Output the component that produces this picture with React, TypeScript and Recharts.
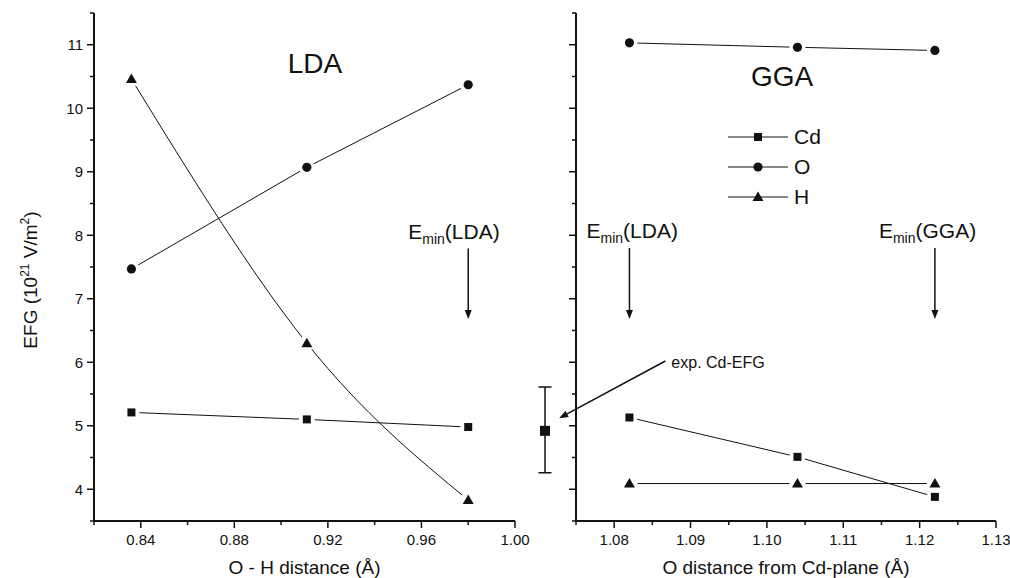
import React from "react";
import {
    LineChart,
    Line,
    ComposedChart,
    Scatter,
    ErrorBar,
    XAxis,
    YAxis,
    Label,
    Legend,
    ReferenceDot,
    ReferenceLine,
} from "recharts";

// LDA panel: EFG vs O-H distance
const LDA_X = [0.836, 0.911, 0.98];
const LDA_CD = [5.21, 5.1, 4.98];
const LDA_O = [7.47, 9.07, 10.37];
const LDA_H = [10.46, 6.3, 3.83];

// GGA panel: EFG vs O distance from Cd-plane
const GGA_X = [1.082, 1.104, 1.122];
const GGA_CD = [5.13, 4.51, 3.88];
const GGA_O = [11.03, 10.96, 10.91];
const GGA_H = [4.09, 4.09, 4.09];

// experimental Cd-EFG with its error range
const EXP_CD = 4.92;
const EXP_LOW = 4.26;
const EXP_HIGH = 5.61;

const Y_MAJOR = [4, 5, 6, 7, 8, 9, 10, 11];
const Y_MINOR = [3.5, 4.5, 5.5, 6.5, 7.5, 8.5, 9.5, 10.5, 11.5];
const LDA_X_MAJOR = [0.84, 0.88, 0.92, 0.96, 1.0];
const LDA_X_MINOR = [0.82, 0.86, 0.9, 0.94, 0.98];
const GGA_X_MAJOR = [1.08, 1.09, 1.1, 1.11, 1.12, 1.13];
const GGA_X_MINOR = [1.075, 1.085, 1.095, 1.105, 1.115, 1.125];

const SERIES = [
    { key: "cd", name: "Cd", shape: "square" },
    { key: "o", name: "O", shape: "circle" },
    { key: "h", name: "H", shape: "triangle" },
];

const INK = "#111";
const FONT = '"Liberation Sans", Arial, Helvetica, sans-serif';
const Y_DOMAIN: [number, number] = [3.5, 11.5];
const axisLine = { stroke: INK, strokeWidth: 2 };

const ldaRows = LDA_X.map((x, i) => ({ x, cd: LDA_CD[i], o: LDA_O[i], h: LDA_H[i] }));
const ggaRows = GGA_X.map((x, i) => ({ x, cd: GGA_CD[i], o: GGA_O[i], h: GGA_H[i] }));
const expRows = [{ x: 0.5, y: EXP_CD, err: [EXP_CD - EXP_LOW, EXP_HIGH - EXP_CD] }];

const near = (list: number[], v: number) => list.some((m) => Math.abs(m - v) < 1e-9);

function Marker({ cx, cy, shape, size = 8, halo = true }: any) {
    const h = size / 2;
    let mark;
    if (shape === "square") {
        mark = <rect x={cx - h} y={cy - h} width={size} height={size} fill={INK} />;
    } else if (shape === "circle") {
        mark = <circle cx={cx} cy={cy} r={h + 0.6} fill={INK} />;
    } else {
        mark = (
            <path
                d={`M${cx},${cy - h - 1.5} L${cx + h + 1.5},${cy + h} L${cx - h - 1.5},${cy + h} Z`}
                fill={INK}
            />
        );
    }
    return (
        <g>
            {halo && <circle cx={cx} cy={cy} r={h + 4} fill="#fff" />}
            {mark}
        </g>
    );
}

const dotFor = (shape: string) => (p: any) =>
    <Marker key={`d-${shape}-${p.index}`} cx={p.cx} cy={p.cy} shape={shape} />;

// y ticks all point to the left (outward on left axes, inward on right axes)
const yTick = (labels: boolean) => (p: any) => {
    const v = p.payload.value;
    const major = near(Y_MAJOR, v);
    const len = major ? 7 : 4;
    return (
        <g>
            <line x1={p.x} y1={p.y} x2={p.x - len} y2={p.y} stroke={INK} strokeWidth={1.5} />
            {labels && major && (
                <text x={p.x - 11} y={p.y + 5.5} textAnchor="end" fontSize={15} fill={INK} fontFamily={FONT}>
                    {v}
                </text>
            )}
        </g>
    );
};

const xTick = (majors: number[]) => (p: any) => {
    const v = p.payload.value;
    const major = near(majors, v);
    const len = major ? 7 : 4;
    return (
        <g>
            <line x1={p.x} y1={p.y} x2={p.x} y2={p.y + len} stroke={INK} strokeWidth={1.5} />
            {major && (
                <text x={p.x} y={p.y + 24} textAnchor="middle" fontSize={15} fill={INK} fontFamily={FONT}>
                    {v.toFixed(2)}
                </text>
            )}
        </g>
    );
};

function YTitle(props: any) {
    const vb = props.viewBox || { y: 13, height: 508 };
    const cx = 37;
    const cy = vb.y + vb.height / 2 + 13;
    return (
        <text
            transform={`translate(${cx},${cy}) rotate(-90)`}
            textAnchor="middle"
            fontSize={19}
            fill={INK}
            fontFamily={FONT}
        >
            EFG (10
            <tspan dy={-8} fontSize={12}>21</tspan>
            <tspan dy={8}> V/m</tspan>
            <tspan dy={-8} fontSize={12}>2</tspan>
            <tspan dy={8}>)</tspan>
        </text>
    );
}

function arrowHead(x1: number, y1: number, x2: number, y2: number) {
    const a = Math.atan2(y2 - y1, x2 - x1);
    const L = 9;
    const W = 3.5;
    const bx = x2 - L * Math.cos(a);
    const by = y2 - L * Math.sin(a);
    const px = -Math.sin(a) * W;
    const py = Math.cos(a) * W;
    return {
        bx,
        by,
        d: `M${x2},${y2} L${bx + px},${by + py} L${bx - px},${by - py} Z`,
    };
}

// E_min arrow with its label written above it
const eminArrow = (method: string, dx: number) => (p: any) => {
    const { x1, y1, x2, y2 } = p;
    const head = arrowHead(x1, y1, x2, y2);
    return (
        <g>
            <line x1={x1} y1={y1} x2={head.bx} y2={head.by} stroke={INK} strokeWidth={1.5} />
            <path d={head.d} fill={INK} />
            <text x={x1 + dx} y={y1 - 10} fontSize={21} fill={INK} fontFamily={FONT}>
                E<tspan dy={5} fontSize={14}>min</tspan>
                <tspan dy={-5}>({method})</tspan>
            </text>
        </g>
    );
};

const expArrow = (p: any) => {
    const { x1, y1, x2, y2 } = p;
    const head = arrowHead(x1, y1, x2, y2);
    return (
        <g>
            <line x1={x1} y1={y1} x2={head.bx} y2={head.by} stroke={INK} strokeWidth={1.5} />
            <path d={head.d} fill={INK} />
            <text x={x1 + 6} y={y1 + 7} fontSize={16} fill={INK} fontFamily={FONT}>
                exp. Cd-EFG
            </text>
        </g>
    );
};

const titleShape = (text: string) => (p: any) =>
    (
        <text x={p.cx} y={p.cy} textAnchor="middle" fontSize={28} fill={INK} fontFamily={FONT}>
            {text}
        </text>
    );

function LegendBox() {
    return (
        <div style={{ fontFamily: FONT, color: INK }}>
            {SERIES.map((s) => (
                <div key={s.key} style={{ display: "flex", alignItems: "center", height: 30 }}>
                    <svg width={60} height={20}>
                        <line x1={0} y1={10} x2={60} y2={10} stroke={INK} strokeWidth={1} />
                        <Marker cx={30} cy={10} shape={s.shape} halo={false} />
                    </svg>
                    <span style={{ fontSize: 21, marginLeft: 6, lineHeight: "30px" }}>{s.name}</span>
                </div>
            ))}
        </div>
    );
}

function seriesLines(curvedH: boolean) {
    return SERIES.map((s) => (
        <Line
            key={s.key}
            dataKey={s.key}
            name={s.name}
            type={s.key === "h" && curvedH ? "natural" : "linear"}
            stroke={INK}
            strokeWidth={1}
            dot={dotFor(s.shape)}
            activeDot={false}
            isAnimationActive={false}
        />
    ));
}

const Y_TICKS = [...Y_MAJOR, ...Y_MINOR];

export default function App() {
    return (
        <div
            style={{
                position: "absolute",
                left: 0,
                top: 0,
                width: 1010,
                height: 578,
                background: "#fff",
                fontFamily: FONT,
            }}
        >
            <div style={{ position: "absolute", left: 0, top: 0 }}>
                <LineChart
                    width={545}
                    height={578}
                    data={ldaRows}
                    margin={{ top: 13, right: 30, bottom: 0, left: 0 }}
                >
                    <XAxis
                        type="number"
                        dataKey="x"
                        domain={[0.82, 1.0]}
                        ticks={[...LDA_X_MAJOR, ...LDA_X_MINOR]}
                        interval={0}
                        tickSize={0}
                        tickMargin={0}
                        tickLine={false}
                        tick={xTick(LDA_X_MAJOR)}
                        axisLine={axisLine}
                        height={57}
                        label={{
                            value: "O - H distance (Å)",
                            position: "insideBottom",
                            offset: 4,
                            fontSize: 19,
                            fill: INK,
                            fontFamily: FONT,
                        }}
                    />
                    <XAxis
                        xAxisId="top"
                        orientation="top"
                        type="number"
                        domain={[0.82, 1.0]}
                        height={0}
                        tick={false}
                        tickLine={false}
                        axisLine={axisLine}
                    />
                    <YAxis
                        type="number"
                        domain={Y_DOMAIN}
                        ticks={Y_TICKS}
                        interval={0}
                        width={94}
                        tickSize={0}
                        tickMargin={0}
                        tickLine={false}
                        tick={yTick(true)}
                        axisLine={axisLine}
                    >
                        <Label content={YTitle} />
                    </YAxis>
                    <YAxis
                        yAxisId="right"
                        orientation="right"
                        type="number"
                        domain={Y_DOMAIN}
                        ticks={Y_TICKS}
                        interval={0}
                        width={0}
                        tickSize={0}
                        tickMargin={0}
                        tickLine={false}
                        tick={yTick(false)}
                        axisLine={axisLine}
                    />
                    <ReferenceDot x={0.9145} y={10.56} r={0} shape={titleShape("LDA")} />
                    <ReferenceLine
                        segment={[
                            { x: 0.98, y: 7.79 },
                            { x: 0.98, y: 6.68 },
                        ]}
                        shape={eminArrow("LDA", -60)}
                    />
                    {seriesLines(true)}
                </LineChart>
            </div>

            <div style={{ position: "absolute", left: 515, top: 0 }}>
                <ComposedChart
                    width={60}
                    height={578}
                    data={expRows}
                    margin={{ top: 13, right: 0, bottom: 57, left: 0 }}
                >
                    <XAxis type="number" dataKey="x" domain={[0, 1]} hide />
                    <YAxis type="number" domain={Y_DOMAIN} hide />
                    <Scatter
                        dataKey="y"
                        isAnimationActive={false}
                        shape={(p: any) => <Marker cx={p.cx} cy={p.cy} shape="square" size={10} halo={false} />}
                    >
                        <ErrorBar
                            dataKey="err"
                            direction="y"
                            width={6.5}
                            stroke={INK}
                            strokeWidth={1.5}
                            isAnimationActive={false}
                        />
                    </Scatter>
                </ComposedChart>
            </div>

            <div style={{ position: "absolute", left: 515, top: 0 }}>
                <LineChart
                    width={495}
                    height={578}
                    data={ggaRows}
                    margin={{ top: 13, right: 14, bottom: 0, left: 0 }}
                >
                    <XAxis
                        type="number"
                        dataKey="x"
                        domain={[1.075, 1.13]}
                        ticks={[...GGA_X_MAJOR, ...GGA_X_MINOR]}
                        interval={0}
                        tickSize={0}
                        tickMargin={0}
                        tickLine={false}
                        tick={xTick(GGA_X_MAJOR)}
                        axisLine={axisLine}
                        height={57}
                        label={{
                            value: "O distance from Cd-plane (Å)",
                            position: "insideBottom",
                            offset: 4,
                            fontSize: 19,
                            fill: INK,
                            fontFamily: FONT,
                        }}
                    />
                    <XAxis
                        xAxisId="top"
                        orientation="top"
                        type="number"
                        domain={[1.075, 1.13]}
                        height={0}
                        tick={false}
                        tickLine={false}
                        axisLine={axisLine}
                    />
                    <YAxis
                        type="number"
                        domain={Y_DOMAIN}
                        ticks={Y_TICKS}
                        interval={0}
                        width={61}
                        tickSize={0}
                        tickMargin={0}
                        tickLine={false}
                        tick={yTick(false)}
                        axisLine={axisLine}
                    />
                    <YAxis
                        yAxisId="right"
                        orientation="right"
                        type="number"
                        domain={Y_DOMAIN}
                        ticks={Y_TICKS}
                        interval={0}
                        width={0}
                        tickSize={0}
                        tickMargin={0}
                        tickLine={false}
                        tick={yTick(false)}
                        axisLine={axisLine}
                    />
                    <ReferenceDot x={1.102} y={10.35} r={0} shape={titleShape("GGA")} />
                    <ReferenceLine
                        segment={[
                            { x: 1.082, y: 7.8 },
                            { x: 1.082, y: 6.68 },
                        ]}
                        shape={eminArrow("LDA", -43)}
                    />
                    <ReferenceLine
                        segment={[
                            { x: 1.122, y: 7.8 },
                            { x: 1.122, y: 6.68 },
                        ]}
                        shape={eminArrow("GGA", -56)}
                    />
                    <ReferenceLine
                        segment={[
                            { x: 1.0867, y: 6.02 },
                            { x: 1.0728, y: 5.12 },
                        ]}
                        ifOverflow="visible"
                        shape={expArrow}
                    />
                    {seriesLines(false)}
                    <Legend
                        layout="vertical"
                        align="center"
                        verticalAlign="middle"
                        content={() => <LegendBox />}
                        wrapperStyle={{ top: 122, left: 213, width: 120 }}
                    />
                </LineChart>
            </div>
        </div>
    );
}
